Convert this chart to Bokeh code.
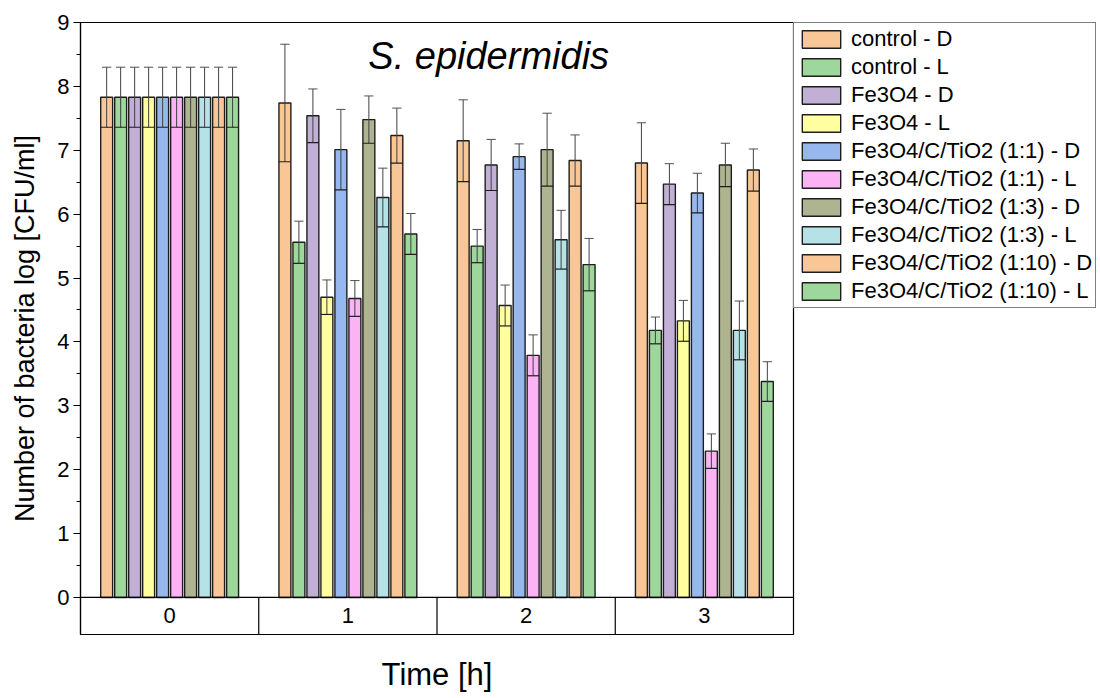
from bokeh.plotting import figure
from bokeh.models import (FactorRange, Legend, LegendItem, Label, Span, Range1d,
                          FixedTicker, ColumnDataSource, Title)
from bokeh.transform import dodge
from bokeh.embed import file_html
from bokeh.resources import INLINE
from bokeh.core.properties import value

# ---------------- data ----------------
times = ["0", "1", "2", "3"]
series = ["control - D", "control - L", "Fe3O4 - D", "Fe3O4 - L",
          "Fe3O4/C/TiO2 (1:1) - D", "Fe3O4/C/TiO2 (1:1) - L",
          "Fe3O4/C/TiO2 (1:3) - D", "Fe3O4/C/TiO2 (1:3) - L",
          "Fe3O4/C/TiO2 (1:10) - D", "Fe3O4/C/TiO2 (1:10) - L"]
colors = ["#F9C796", "#9DD79C", "#C1AFD6", "#FFFF9F", "#97B7EF",
          "#FBB3F3", "#ADB48F", "#B6E2E7", "#F9C796", "#9DD79C"]

control_D = [7.83, 7.74, 7.15, 6.80]
control_L = [7.83, 5.56, 5.50, 4.18]
fe3o4_D = [7.83, 7.54, 6.77, 6.47]
fe3o4_L = [7.83, 4.70, 4.57, 4.33]
tio2_11_D = [7.83, 7.01, 6.90, 6.33]
tio2_11_L = [7.83, 4.68, 3.79, 2.29]
tio2_13_D = [7.83, 7.48, 7.01, 6.77]
tio2_13_L = [7.83, 6.26, 5.60, 4.18]
tio2_110_D = [7.83, 7.23, 6.84, 6.69]
tio2_110_L = [7.83, 5.69, 5.21, 3.38]

control_D_err = [0.47, 0.92, 0.64, 0.63]
control_L_err = [0.47, 0.33, 0.26, 0.21]
fe3o4_D_err = [0.47, 0.42, 0.40, 0.32]
fe3o4_L_err = [0.47, 0.27, 0.32, 0.32]
tio2_11_D_err = [0.47, 0.63, 0.20, 0.31]
tio2_11_L_err = [0.47, 0.28, 0.32, 0.27]
tio2_13_D_err = [0.47, 0.37, 0.57, 0.34]
tio2_13_L_err = [0.47, 0.46, 0.46, 0.46]
tio2_110_D_err = [0.47, 0.43, 0.40, 0.33]
tio2_110_L_err = [0.47, 0.32, 0.41, 0.31]

y_ticks = [0, 1, 2, 3, 4, 5, 6, 7, 8, 9]

means = [control_D, control_L, fe3o4_D, fe3o4_L, tio2_11_D, tio2_11_L,
         tio2_13_D, tio2_13_L, tio2_110_D, tio2_110_L]
errs = [control_D_err, control_L_err, fe3o4_D_err, fe3o4_L_err, tio2_11_D_err,
        tio2_11_L_err, tio2_13_D_err, tio2_13_L_err, tio2_110_D_err, tio2_110_L_err]

FONT = "Liberation Sans"

# ---------------- figure ----------------
p = figure(x_range=FactorRange(*times, range_padding=0, factor_padding=0),
           y_range=Range1d(-0.58, 9),
           frame_width=713, frame_height=612,
           output_backend="svg", toolbar_location=None,
           min_border_left=80, min_border_right=0, min_border_top=22,
           min_border_bottom=0)
p.background_fill_color = "white"
p.border_fill_color = "white"
p.outline_line_color = "black"
p.outline_line_width = 1.2
p.grid.visible = False

# y axis
p.yaxis.ticker = FixedTicker(ticks=y_ticks,
                             minor_ticks=[t + 0.5 for t in y_ticks[:-1]])
p.yaxis.axis_label = "Number of bacteria log [CFU/ml]"
p.yaxis.axis_label_text_font = FONT
p.yaxis.axis_label_text_font_size = "27px"
p.yaxis.axis_label_text_font_style = "normal"
p.yaxis.axis_label_text_color = "black"
p.yaxis.axis_label_standoff = 14
p.yaxis.major_label_text_font = FONT
p.yaxis.major_label_text_font_size = "22px"
p.yaxis.major_label_text_color = "black"
p.yaxis.major_tick_in = 0
p.yaxis.major_tick_out = 7
p.yaxis.minor_tick_in = 0
p.yaxis.minor_tick_out = 4
p.yaxis.axis_line_color = "black"
p.yaxis.axis_line_width = 1.2
p.yaxis.major_tick_line_color = "black"
p.yaxis.minor_tick_line_color = "black"
p.yaxis.major_label_standoff = 4

# x axis hidden; its title is drawn as a Title below
p.xaxis.visible = False
p.add_layout(Title(text="Time [h]", align="center", text_font=FONT,
                   text_font_size="31px", text_font_style="normal",
                   text_color="black", standoff=40, offset=0), "below")

n = len(series)
step = 0.0785
bar_w = 0.067
cap_w = 0.026

items = []
for i in range(n):
    off = (i - (n - 1) / 2) * step
    src = ColumnDataSource(dict(
        t=times, top=means[i],
        upper=[m + e for m, e in zip(means[i], errs[i])],
        lower=[m - e for m, e in zip(means[i], errs[i])]))
    r = p.vbar(x=dodge("t", off, range=p.x_range), top="top", bottom=0,
               width=bar_w, source=src, fill_color=colors[i],
               line_color="#1e1e1e", line_width=1.4)
    items.append(LegendItem(label=series[i], renderers=[r]))
    # error bars
    p.segment(x0=dodge("t", off, range=p.x_range), x1=dodge("t", off, range=p.x_range),
              y0="lower", y1="upper", source=src, line_color="#404040", line_width=1)
    p.segment(x0=dodge("t", off - cap_w, range=p.x_range),
              x1=dodge("t", off + cap_w, range=p.x_range),
              y0="upper", y1="upper", source=src, line_color="#505050", line_width=1)
    p.segment(x0=dodge("t", off - bar_w / 2, range=p.x_range),
              x1=dodge("t", off + bar_w / 2, range=p.x_range),
              y0="lower", y1="lower", source=src, line_color="#1e1e1e", line_width=1.2)

# baseline and category box
p.add_layout(Span(location=0, dimension="width", line_color="black", line_width=1.2))
sep_src = ColumnDataSource(dict(t=times[:-1]))
p.segment(x0=dodge("t", 0.5, range=p.x_range), x1=dodge("t", 0.5, range=p.x_range),
          y0=-0.58, y1=0, source=sep_src, line_color="black", line_width=1.2)
lab_src = ColumnDataSource(dict(t=times, y=[-0.29] * len(times)))
p.text(x="t", y="y", text="t", source=lab_src, text_align="center",
       text_baseline="middle", text_font=value(FONT), text_font_size="22px",
       text_color="black")

# title inside plot
p.add_layout(Label(x=2.29, y=8.48, text="S. epidermidis", text_align="center",
                   text_baseline="middle", text_font=FONT, text_font_size="38px",
                   text_font_style="italic", text_color="black"))

legend = Legend(items=items, location="top_left", margin=0, padding=3,
                spacing=2, glyph_width=48, glyph_height=22, label_height=22,
                label_standoff=6, label_text_font=FONT,
                label_text_font_size="22px", label_text_color="black",
                border_line_color="black", border_line_width=1,
                background_fill_color="white", background_fill_alpha=1)
p.add_layout(legend, "right")

open("out.html", "w").write(file_html(p, INLINE))
